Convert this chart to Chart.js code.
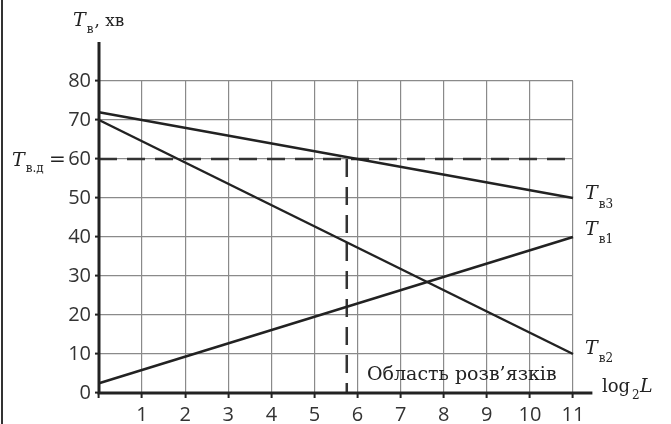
<!DOCTYPE html>
<html>
<head>
<meta charset="utf-8">
<script src="https://cdn.jsdelivr.net/npm/chart.js@4/dist/chart.umd.min.js"></script>
<style>
html,body{margin:0;padding:0;background:#fff;}
#wrap{position:relative;width:671px;height:424px;}
#edge{position:absolute;left:1px;top:0;width:2px;height:424px;background:#333;}
canvas{position:absolute;left:0;top:0;}
</style>
</head>
<body>
<div id="wrap"><canvas id="c" width="671" height="424"></canvas><div id="edge"></div></div>
<script>
// ---- data ----
const xTicks = [0,1,2,3,4,5,6,7,8,9,10,11];
const yTicks = [0,10,20,30,40,50,60,70,80];
const lineX = [0, 11];
const tv1 = [2.5, 40];
const tv2 = [70, 10];
const tv3 = [72, 50];
const tvd = 60;          // T_в.д
const xSolution = 5.75;  // boundary of the solution region

const toPts = (xs, ys) => xs.map((x, i) => ({x, y: ys[i]}));

const INK = '#222';
const serif = '"DejaVu Serif", serif';

const textPlugin = {
  id: 'texts',
  afterDraw(chart) {
    const ctx = chart.ctx;
    const xs = chart.scales.x, ys = chart.scales.y;
    const x0 = xs.getPixelForValue(0), y0 = ys.getPixelForValue(0);
    const x11 = xs.getPixelForValue(11);
    ctx.save();
    // axes
    ctx.strokeStyle = INK;
    ctx.lineWidth = 3;
    ctx.lineCap = 'butt';
    ctx.beginPath();
    ctx.moveTo(x0, ys.getPixelForValue(90));
    ctx.lineTo(x0, y0 + 1.5);
    ctx.moveTo(x0 - 1.5, y0);
    ctx.lineTo(xs.getPixelForValue(11.45), y0);
    ctx.stroke();

    ctx.fillStyle = INK;
    ctx.textBaseline = 'alphabetic';
    ctx.textAlign = 'left';
    const Tlabel = (x, yb, sub, subDy) => {
      ctx.font = 'italic 19px ' + serif;
      ctx.fillText('T', x, yb);
      const w = ctx.measureText('T').width;
      ctx.font = '12px ' + serif;
      ctx.fillText(sub, x + w + 1, yb + subDy);
      return x + w + 1 + ctx.measureText(sub).width;
    };
    // y-axis title
    let e = Tlabel(73, 26, 'в', 7);
    ctx.font = '17px ' + serif;
    ctx.fillText(', хв', e + 1, 26);

    // line labels
    const lx = x11 + 12;
    Tlabel(lx, ys.getPixelForValue(tv3[1]) + 1, 'в3', 9);
    Tlabel(lx, ys.getPixelForValue(tv1[1]) - 2, 'в1', 8);
    Tlabel(lx, ys.getPixelForValue(tv2[1]), 'в2', 8);

    // T_в.д =
    const y60 = ys.getPixelForValue(tvd);
    e = Tlabel(12, y60 + 7, 'в.д', 6);
    ctx.font = '20px ' + serif;
    ctx.fillText('=', 49, y60 + 7);

    // x-axis title
    ctx.font = '18px ' + serif;
    ctx.fillText('log', 602, y0 - 1);
    let w = ctx.measureText('log').width;
    ctx.font = '12px ' + serif;
    ctx.fillText('2', 602 + w + 2, y0 + 6);
    ctx.font = 'italic 19px ' + serif;
    ctx.fillText('L', 640, y0 - 1);

    // region label
    ctx.font = '19px ' + serif;
    ctx.fillText('Область розв’язків', 367, y0 - 13);
    ctx.restore();
  }
};

new Chart(document.getElementById('c'), {
  type: 'scatter',
  data: {
    datasets: [
      {data: toPts(lineX, tv3), showLine: true, borderColor: INK, borderWidth: 2.5, pointRadius: 0, clip: false},
      {data: toPts(lineX, tv2), showLine: true, borderColor: INK, borderWidth: 2.5, pointRadius: 0, clip: false},
      {data: toPts(lineX, tv1), showLine: true, borderColor: INK, borderWidth: 2.5, pointRadius: 0, clip: false},
      {data: toPts(lineX, [tvd, tvd]), showLine: true, borderColor: '#333', borderWidth: 2.5, borderDash: [18, 10], pointRadius: 0, clip: false},
      {data: toPts([xSolution, xSolution], [tvd, 0]), showLine: true, borderColor: '#333', borderWidth: 2.5, borderDash: [18, 10], pointRadius: 0, clip: false}
    ]
  },
  options: {
    responsive: false,
    animation: false,
    devicePixelRatio: 1,
    layout: {padding: {top: 81, right: 98, left: 0, bottom: 0}},
    plugins: {legend: {display: false}, tooltip: {enabled: false}},
    scales: {
      x: {
        type: 'linear', min: 0, max: 11,
        afterBuildTicks: s => { s.ticks = xTicks.map(v => ({value: v})); },
        afterFit: s => { s.height = 31; },
        border: {display: false},
        grid: {color: '#8a8a8a', lineWidth: 1.2, tickLength: 5, tickColor: INK, tickWidth: 2},
        ticks: {padding: 5, color: '#333', font: {family: '"Open Sans"', size: 20},
                callback: v => v === 0 ? '' : String(v)}
      },
      y: {
        type: 'linear', min: 0, max: 80,
        afterBuildTicks: s => { s.ticks = yTicks.map(v => ({value: v})); },
        afterFit: s => { s.width = 99; },
        border: {display: false},
        grid: {color: '#8a8a8a', lineWidth: 1.2, tickLength: 4, tickColor: INK, tickWidth: 2},
        ticks: {padding: 4, color: '#333', font: {family: '"Open Sans"', size: 20}}
      }
    }
  },
  plugins: [textPlugin]
});
</script>
</body>
</html>
